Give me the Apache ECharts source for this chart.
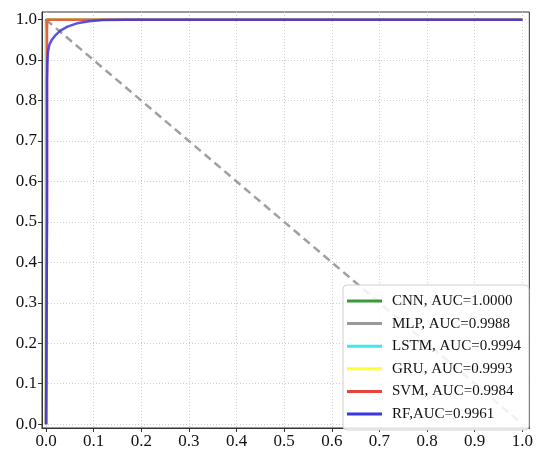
<!DOCTYPE html>
<html><head><meta charset="utf-8">
<script src="https://cdn.jsdelivr.net/npm/echarts@6/dist/echarts.min.js"></script>
<style>html,body{margin:0;padding:0;background:#fff}#c{width:536px;height:452px}</style>
</head><body><div id="c"></div>
<script>
const tickValues = [0,0.1,0.2,0.3,0.4,0.5,0.6,0.7,0.8,0.9,1.0];
const seriesNames = ['CNN, AUC=1.0000','MLP, AUC=0.9988','LSTM, AUC=0.9994','GRU, AUC=0.9993','SVM, AUC=0.9984','RF,AUC=0.9961'];
const seriesColors = ['#3a9a3a','#9a9a9a','#40e8ee','#ffff30','#e8453a','#3a35e6'];
const cnnPts = [[0,0],[0,1],[1,1]];
const mlpPts = [[0,0],[0.001,0.95],[0.002,0.99],[0.004,1],[1,1]];
const lstmPts = [[0,0],[0.001,0.97],[0.002,0.995],[0.003,1],[1,1]];
const gruPts = [[0,0],[0.001,0.96],[0.002,0.995],[0.003,1],[1,1]];
const svmPts = [[0,0],[0.002,0.6],[0.002,0.93],[0.002,0.99],[0.003,1],[1,1]];
const rfPts = [[0,0],[0.002,0.5],[0.002,0.85],[0.003,0.90],[0.004,0.92],[0.007,0.938],[0.012,0.95],[0.02,0.962],[0.03,0.973],[0.045,0.983],[0.065,0.991],[0.09,0.996],[0.12,0.999],[0.17,1],[1,1]];
const chancePts = [[0,1],[1,0]];
const allPts = [cnnPts,mlpPts,lstmPts,gruPts,svmPts,rfPts];

const font = 'Liberation Serif';
const series = [{
  type:'line', name:'chance', data: chancePts, symbol:'none', silent:true,
  lineStyle:{color:'#a0a0a0', width:2.5, type:[8,5]}, z:1
}];
allPts.forEach((d,i)=>{
  series.push({type:'line', name:seriesNames[i], data:d, symbol:'none',
    lineStyle:{color:seriesColors[i], width:2.5, opacity:0.85}, itemStyle:{color:seriesColors[i]}, z:2+i});
});
const axisCommon = {
  type:'value',
  axisLine:{show:true, onZero:false, lineStyle:{color:'#333', width:1}},
  axisTick:{show:true, inside:false, length:4, customValues:tickValues, lineStyle:{color:'#333'}},
  axisLabel:{customValues:tickValues, color:'#111', fontFamily:font, fontSize:17, margin:5, formatter:v=>v.toFixed(1)},
  splitLine:{show:true, lineStyle:{color:'#cfcfcf', type:[1,2], width:1}}
};
const chart = echarts.init(document.getElementById('c'));
chart.setOption({
  animation:false,
  grid:{left:42, right:3, top:12, bottom:24, show:true, borderColor:'#333', borderWidth:1, containLabel:false},
  xAxis:Object.assign({}, axisCommon, {min:-0.0085, max:1.0146}),
  yAxis:Object.assign({}, axisCommon, {min:-0.0095, max:1.019}),
  legend:{
    data:seriesNames, orient:'vertical', left:343, top:285,
    itemWidth:35, itemHeight:3, itemGap:4.6, icon:'rect',
    padding:[7,8,7,4], backgroundColor:'rgba(255,255,255,0.85)',
    borderColor:'#d0d0d0', borderWidth:1, borderRadius:4,
    textStyle:{fontFamily:font, fontSize:15, color:'#111', lineHeight:18, padding:[0,0,0,5]}
  },
  series:series
});
</script></body></html>
